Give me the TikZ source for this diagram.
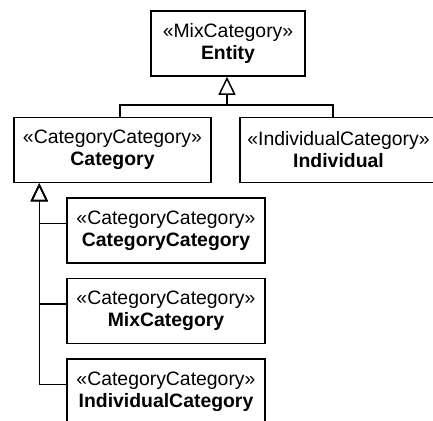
\documentclass[tikz,border=0pt]{standalone}
\usepackage{fontspec}
\setmainfont{Liberation Sans}
\usepackage{tikz}
\usetikzlibrary{arrows.meta,calc}

\begin{document}
\begin{tikzpicture}[x=0.5pt,y=-0.5pt,
  cls/.style={draw,line width=0.75pt,align=center,inner sep=0pt,
    minimum height=32.5pt,font=\fontsize{9.7}{11}\selectfont},
  gen/.style={line width=0.75pt,-{Triangle[open,length=9pt,width=8.5pt]}},
  lnk/.style={line width=0.75pt}]
 \clip (0,0) rectangle (433,420);

 \node [cls,minimum width=77pt] (entity) at (228,43.5) {«MixCategory»\\\textbf{Entity}};
 \node [cls,minimum width=98.5pt] (category) at (112.5,150) {«CategoryCategory»\\\textbf{Category}};
 \node [cls,minimum width=98.5pt] (individual) at (338.5,150) {«IndividualCategory»\\\textbf{Individual}};

 \node [cls,minimum width=99pt] (catcat) at (166,230.5) {«CategoryCategory»\\\textbf{CategoryCategory}};
 \node [cls,minimum width=99pt] (mixcat) at (166,311) {«CategoryCategory»\\\textbf{MixCategory}};
 \node [cls,minimum width=99pt] (indcat) at (166,391.5) {«CategoryCategory»\\\textbf{IndividualCategory}};

 % generalisation to Entity
 \coordinate (ejoin) at (227,105);
 \draw [gen] ([xshift=3.75pt]category.north) |- (ejoin) -- (entity.south -| ejoin);
 \draw [lnk] ([xshift=-2.75pt]individual.north) |- (ejoin);

 % generalisation to Category
 \coordinate (cjoin) at ([xshift=13pt]category.south west);
 \draw [gen] ([yshift=-13pt]indcat.north west) -| (cjoin);
 \draw [gen] ([yshift=-13pt]mixcat.north west) -| (cjoin);
 \draw [gen] ([yshift=-13pt]catcat.north west) -| (cjoin);
\end{tikzpicture}
\end{document}
